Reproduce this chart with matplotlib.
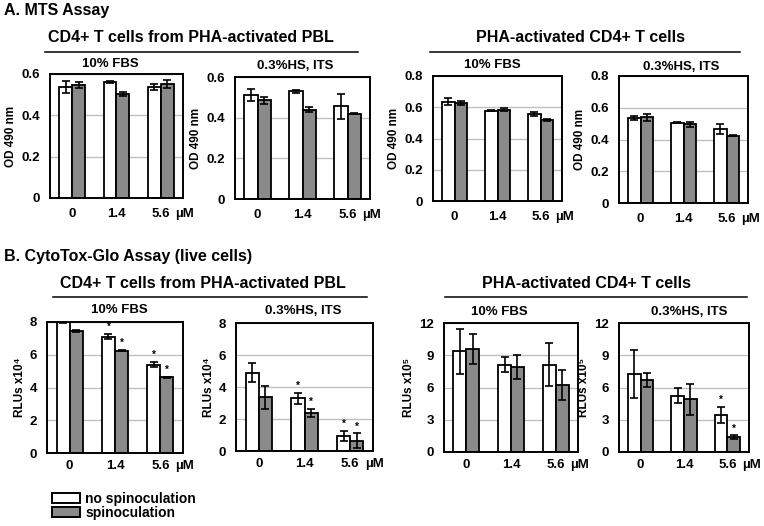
import numpy as np
import matplotlib
matplotlib.use("Agg")
from matplotlib import pyplot as plt
from matplotlib.patches import Patch
from matplotlib.lines import Line2D

plt.rcParams['font.family'] = ['Liberation Sans', 'DejaVu Sans']
plt.rcParams['font.weight'] = 'bold'
plt.rcParams['axes.labelweight'] = 'bold'

# data
doses = ["0", "1.4", "5.6"]

a1_no = [0.537, 0.56, 0.537]
a1_no_err = [0.03, 0.005, 0.015]
a1_sp = [0.547, 0.503, 0.55]
a1_sp_err = [0.015, 0.008, 0.02]

a2_no = [0.51, 0.53, 0.455]
a2_no_err = [0.03, 0.008, 0.06]
a2_sp = [0.485, 0.44, 0.42]
a2_sp_err = [0.018, 0.012, 0.003]

a3_no = [0.635, 0.578, 0.556]
a3_no_err = [0.022, 0.003, 0.012]
a3_sp = [0.625, 0.585, 0.52]
a3_sp_err = [0.012, 0.012, 0.005]

a4_no = [0.535, 0.505, 0.465]
a4_no_err = [0.015, 0.003, 0.03]
a4_sp = [0.54, 0.495, 0.425]
a4_sp_err = [0.022, 0.015, 0.005]

b1_no = [8.05, 7.1, 5.4]
b1_no_err = [0.1, 0.15, 0.15]
b1_sp = [7.45, 6.25, 4.62]
b1_sp_err = [0.08, 0.03, 0.03]

b2_no = [4.9, 3.3, 0.95]
b2_no_err = [0.6, 0.35, 0.3]
b2_sp = [3.35, 2.4, 0.65]
b2_sp_err = [0.7, 0.25, 0.45]

b3_no = [9.35, 8.1, 8.1]
b3_no_err = [2.1, 0.7, 2.0]
b3_sp = [9.6, 7.9, 6.2]
b3_sp_err = [1.4, 1.1, 1.4]

b4_no = [7.25, 5.25, 3.45]
b4_no_err = [2.2, 0.7, 0.75]
b4_sp = [6.7, 4.9, 1.4]
b4_sp_err = [0.65, 1.45, 0.15]

# significance marks: (series, dose index)
b1_stars = [(0, 1), (1, 1), (0, 2), (1, 2)]
b2_stars = [(0, 1), (1, 1), (0, 2), (1, 2)]
b4_stars = [(0, 2), (1, 2)]

W, H = 764, 526
GRAY = '#8a8a8a'
fig = plt.figure(figsize=(W / 100, H / 100), dpi=100)


def make_ax(l, r, t, b):
    return fig.add_axes([l / W, 1 - b / H, (r - l) / W, (b - t) / H])


def panel(ax, no, no_err, sp, sp_err, ymax, ystep, ylabel, stars=(), xpad=7):
    idx = np.arange(len(doses))
    w = 0.29
    ax.bar(idx - w / 2, no, w, color='white', edgecolor='black', linewidth=1.3, zorder=2)
    ax.bar(idx + w / 2, sp, w, color=GRAY, edgecolor='black', linewidth=1.3, zorder=2)
    ax.errorbar(idx - w / 2, no, yerr=no_err, fmt='none', ecolor='black',
                elinewidth=1.2, capsize=3, capthick=1.2, zorder=3)
    ax.errorbar(idx + w / 2, sp, yerr=sp_err, fmt='none', ecolor='black',
                elinewidth=1.2, capsize=3, capthick=1.2, zorder=3)
    series = [(no, no_err), (sp, sp_err)]
    for s, i in stars:
        v, e = series[s]
        ax.annotate('*', xy=(i + (s - 0.5) * w, v[i] + e[i]), xytext=(0, 5),
                    textcoords='offset points', ha='center', va='center', fontsize=7)
    ax.set_xlim(-0.5, 2.5)
    ax.set_ylim(0, ymax)
    ticks = np.arange(0, ymax + ystep / 2, ystep)
    ax.set_yticks(ticks)
    ax.set_yticklabels(['0'] + ['%g' % t for t in ticks[1:]])
    ax.set_xticks(idx)
    ax.set_xticklabels(doses)
    ax.tick_params(axis='y', length=0, labelsize=9.5, pad=7)
    ax.tick_params(axis='x', length=0, labelsize=9.5, pad=xpad)
    ax.yaxis.grid(True, color='#c0c0c0', linewidth=1)
    ax.set_axisbelow(True)
    for sp_ in ax.spines.values():
        sp_.set_linewidth(1.4)
    ax.set_ylabel(ylabel, fontsize=8.5, labelpad=3)
    ax.annotate('µM', xy=(2.33, 0), xycoords=('data', 'axes fraction'),
                xytext=(0, -xpad), textcoords='offset points', ha='left', va='top',
                fontsize=9.5, annotation_clip=False)


axA1 = make_ax(50, 183, 74, 198)
axA2 = make_ax(235, 370, 77, 199)
axA3 = make_ax(433, 562, 76, 201)
axA4 = make_ax(619, 748, 76, 203)
axB1 = make_ax(47, 183, 322, 453)
axB2 = make_ax(236, 373, 323, 451)
axB3 = make_ax(444, 578, 323, 452)
axB4 = make_ax(619, 749, 323, 452)

panel(axA1, a1_no, a1_no_err, a1_sp, a1_sp_err, 0.6, 0.2, 'OD 490 nm')
panel(axA2, a2_no, a2_no_err, a2_sp, a2_sp_err, 0.6, 0.2, 'OD 490 nm')
panel(axA3, a3_no, a3_no_err, a3_sp, a3_sp_err, 0.8, 0.2, 'OD 490 nm')
panel(axA4, a4_no, a4_no_err, a4_sp, a4_sp_err, 0.8, 0.2, 'OD 490 nm')
panel(axB1, b1_no, b1_no_err, b1_sp, b1_sp_err, 8, 2, 'RLUs x10⁴', b1_stars, xpad=5)
panel(axB2, b2_no, b2_no_err, b2_sp, b2_sp_err, 8, 2, 'RLUs x10⁴', b2_stars, xpad=5)
panel(axB3, b3_no, b3_no_err, b3_sp, b3_sp_err, 12, 3, 'RLUs x10⁵', xpad=5)
panel(axB4, b4_no, b4_no_err, b4_sp, b4_sp_err, 12, 3, 'RLUs x10⁵', b4_stars, xpad=5)


def ftext(x, y, s, size, ha='center'):
    fig.text(x / W, 1 - y / H, s, ha=ha, va='center', fontsize=size, fontweight='bold')


def hline(x0, x1, y):
    fig.add_artist(Line2D([x0 / W, x1 / W], [1 - y / H, 1 - y / H],
                          transform=fig.transFigure, color='black', linewidth=1.1))


ftext(4, 11, 'A. MTS Assay', 11.5, ha='left')
ftext(191, 37, 'CD4+ T cells from PHA-activated PBL', 11.5)
hline(45, 358, 52)
ftext(580, 37, 'PHA-activated CD4+ T cells', 11.5)
hline(430, 740, 52)
ftext(110, 64, '10% FBS', 9.5)
ftext(295, 66, '0.3%HS, ITS', 9.5)
ftext(492, 65, '10% FBS', 9.5)
ftext(681, 67, '0.3%HS, ITS', 9.5)

ftext(4, 257, 'B. CytoTox-Glo Assay (live cells)', 11.5, ha='left')
ftext(203, 283, 'CD4+ T cells from PHA-activated PBL', 11.5)
hline(53, 367, 297)
ftext(587, 283, 'PHA-activated CD4+ T cells', 11.5)
hline(445, 747, 297)
ftext(119, 310, '10% FBS', 9.5)
ftext(303, 311, '0.3%HS, ITS', 9.5)
ftext(499, 312, '10% FBS', 9.5)
ftext(689, 312, '0.3%HS, ITS', 9.5)

handles = [Patch(facecolor='white', edgecolor='black', linewidth=1.4),
           Patch(facecolor=GRAY, edgecolor='black', linewidth=1.4)]
fig.legend(handles, ['no spinoculation', 'spinoculation'], loc='upper left',
           bbox_to_anchor=(52 / W, 1 - 492 / H), frameon=False, fontsize=10,
           handlelength=2.0, handleheight=0.7, handletextpad=0.4,
           labelspacing=0.0, borderpad=0, borderaxespad=0)

fig.savefig('out.png', dpi=100)
